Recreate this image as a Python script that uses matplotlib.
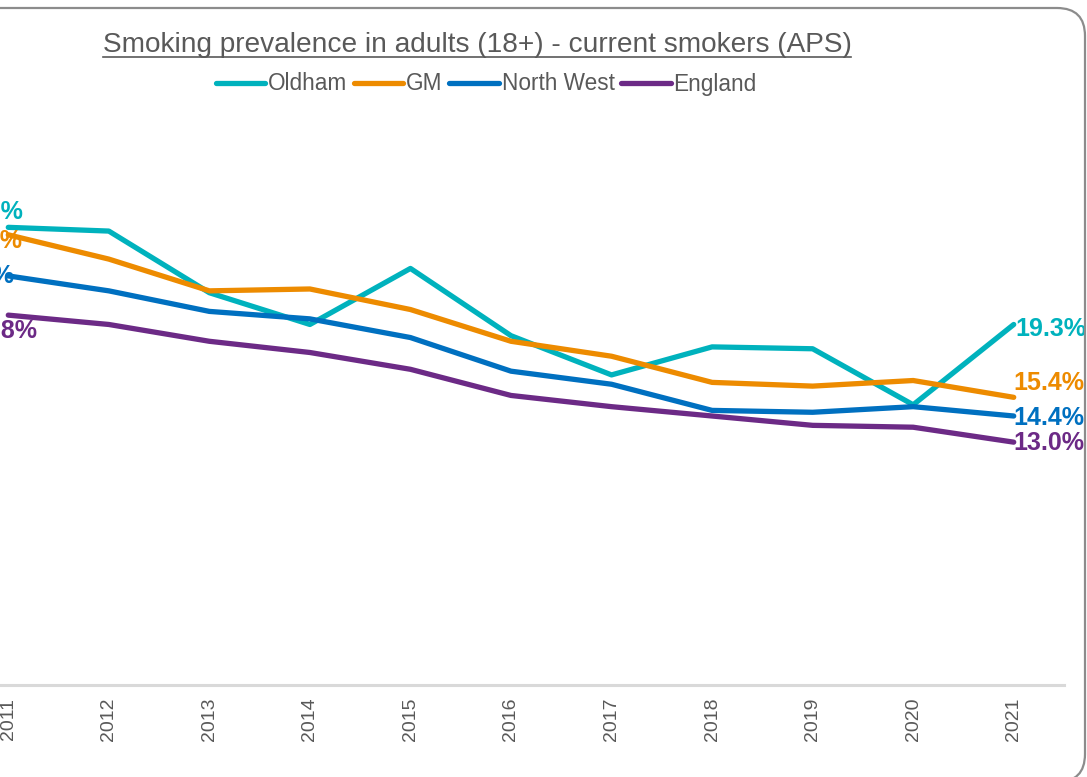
import matplotlib.pyplot as plt
from matplotlib.patches import FancyBboxPatch
from matplotlib.lines import Line2D

plt.rcParams['font.family'] = ['Liberation Sans', 'DejaVu Sans']

years = [2011, 2012, 2013, 2014, 2015, 2016, 2017, 2018, 2019, 2020, 2021]
oldham = [24.5, 24.3, 21.0, 19.3, 22.3, 18.7, 16.6, 18.1, 18.0, 15.0, 19.3]
gm = [24.1, 22.8, 21.1, 21.2, 20.1, 18.4, 17.6, 16.2, 16.0, 16.3, 15.4]
north_west = [21.9, 21.1, 20.0, 19.6, 18.6, 16.8, 16.1, 14.7, 14.6, 14.9, 14.4]
england = [19.8, 19.3, 18.4, 17.8, 16.9, 15.5, 14.9, 14.4, 13.9, 13.8, 13.0]

series = [("Oldham", oldham, "#00B2BD"),
          ("GM", gm, "#ED8B00"),
          ("North West", north_west, "#0070C0"),
          ("England", england, "#6C2A86")]

# label offsets in pixels (first point, last point)
first_off = [(15, 15), (14, -6), (6, 0), (29, -16)]
last_off = [(2, -5), (0, 14), (0, -2), (0, -1)]

fig = plt.figure(figsize=(10.87, 7.77), dpi=100)
ax = fig.add_axes([-42 / 1087, 92 / 777, 1106 / 1087, 560.4 / 777])

for (name, vals, col), fo, lo in zip(series, first_off, last_off):
    ax.plot(years, vals, color=col, lw=3.8, label=name, solid_capstyle='round')
    ax.annotate(f"{vals[0]:.1f}%", (years[0], vals[0]), xytext=fo,
                textcoords='offset pixels', ha='right', va='center',
                color=col, fontsize=18, fontweight='bold')
    ax.annotate(f"{vals[-1]:.1f}%", (years[-1], vals[-1]), xytext=lo,
                textcoords='offset pixels', ha='left', va='center',
                color=col, fontsize=18, fontweight='bold')

ax.set_xlim(2010.5, 2021.5)
ax.set_ylim(0, 30)
ax.set_xticks(years)
ax.set_xticklabels([str(y) for y in years], rotation=90, color='#595959', fontsize=14)
ax.tick_params(axis='x', length=0, pad=9)
ax.set_yticks([])
for s in ['top', 'left', 'right']:
    ax.spines[s].set_visible(False)
ax.spines['bottom'].set_color('#D9D9D9')
ax.spines['bottom'].set_linewidth(2.2)
ax.patch.set_visible(False)

fig.legend(loc='center', bbox_to_anchor=(486 / 1087, 1 - 84 / 777), ncol=4,
           frameon=False, fontsize=16.3, handlelength=2.2, handletextpad=0.12,
           columnspacing=0.28, labelcolor='#595959')

title = fig.text(477 / 1087, 1 - 45 / 777,
                 "Smoking prevalence in adults (18+) - current smokers (APS)",
                 ha='center', va='center', fontsize=20.2, color='#595959')
fig.canvas.draw()
bb = title.get_window_extent().transformed(fig.transFigure.inverted())
fig.add_artist(Line2D([bb.x0, bb.x1], [bb.y0 + 0.001, bb.y0 + 0.001],
                      transform=fig.transFigure, color='#595959', lw=1.2))

# rounded chart border (partly outside the picture)
border = FancyBboxPatch((-0.5, -0.05), 11.35, 7.74,
                        boxstyle="round,pad=0,rounding_size=0.28",
                        transform=fig.dpi_scale_trans, fill=False,
                        edgecolor='#8C8C8C', lw=1.6)
fig.add_artist(border)

fig.savefig("out.png", dpi=100)
